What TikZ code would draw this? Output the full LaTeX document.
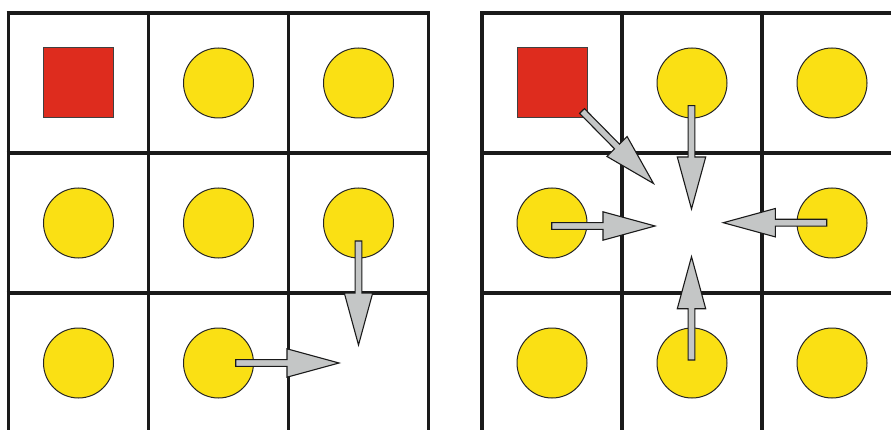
\documentclass[tikz,border=0pt]{standalone}
\usetikzlibrary{calc}
\definecolor{gridc}{RGB}{26,26,26}
\definecolor{ball}{RGB}{250,224,20}
\definecolor{redsq}{RGB}{222,44,30}
\definecolor{arrg}{RGB}{196,198,198}
\tikzset{
  gridline/.style={draw=gridc, line width=3.6pt},
  ballnode/.style={circle, draw=black!85, line width=1pt, fill=ball, minimum size=70pt, inner sep=0pt},
  sqnode/.style={rectangle, draw=black!75, line width=1pt, fill=redsq, minimum size=70pt, inner sep=0pt},
  fatarr/.style={fill=arrg, draw=gridc, line width=1.1pt, line join=miter},
}
\newcommand\fatarrow[2]{%
  \coordinate (hb) at ($(#2)!52pt!(#1)$);
  \filldraw[fatarr] ($(#1)!3.4pt!90:(#2)$) -- ($(hb)!3.4pt!90:(#2)$) -- ($(hb)!14.2pt!90:(#2)$) -- (#2)
    -- ($(hb)!14.2pt!-90:(#2)$) -- ($(hb)!3.4pt!-90:(#2)$) -- ($(#1)!3.4pt!-90:(#2)$) -- cycle;
}
\begin{document}
\begin{tikzpicture}[x=1pt,y=-1pt]
\useasboundingbox (0,0) rectangle (891,430);
\clip (0,0) rectangle (891,430);
\fill[white] (0,0) rectangle (891,430);
% left grid
\foreach \x in {8.5,148.5,288.5,428.5} \draw[gridline] (\x,11.2) -- (\x,440);
\foreach \y in {13,153,293} \draw[gridline] (6.7,\y) -- (430.3,\y);
% right grid
\foreach \x in {482,622,762,902} \draw[gridline] (\x,11.2) -- (\x,440);
\foreach \y in {13,153,293} \draw[gridline] (480.2,\y) -- (905,\y);
% left objects
\node[sqnode] (L11) at (78.5,83) {};
\node[ballnode] (L12) at (218.5,83) {};
\node[ballnode] (L13) at (358.5,83) {};
\node[ballnode] (L21) at (78.5,223) {};
\node[ballnode] (L22) at (218.5,223) {};
\node[ballnode] (L23) at (358.5,223) {};
\node[ballnode] (L31) at (78.5,363) {};
\node[ballnode] (L32) at (218.5,363) {};
% right objects
\node[sqnode] (R11) at (552,83) {};
\node[ballnode] (R12) at (692,83) {};
\node[ballnode] (R13) at (832,83) {};
\node[ballnode] (R21) at (552,223) {};
\node[ballnode] (R23) at (832,223) {};
\node[ballnode] (R31) at (552,363) {};
\node[ballnode] (R32) at (692,363) {};
\node[ballnode] (R33) at (832,363) {};
% arrow ends
\coordinate (aS) at (358.5,241);   \coordinate (aT) at (358.5,345);
\coordinate (bS) at (235.7,363);   \coordinate (bT) at (339,363);
\coordinate (cS) at (582,111);     \coordinate (cT) at (653.5,183.5);
\coordinate (dS) at (691.5,105.7); \coordinate (dT) at (691.5,209);
\coordinate (eS) at (551.7,226);   \coordinate (eT) at (655,226);
\coordinate (fS) at (826.7,222.7); \coordinate (fT) at (723.3,222.7);
\coordinate (gS) at (691.5,360);   \coordinate (gT) at (691.5,256.7);
\fatarrow{aS}{aT}
\fatarrow{bS}{bT}
\fatarrow{cS}{cT}
\fatarrow{dS}{dT}
\fatarrow{eS}{eT}
\fatarrow{fS}{fT}
\fatarrow{gS}{gT}
\end{tikzpicture}
\end{document}
